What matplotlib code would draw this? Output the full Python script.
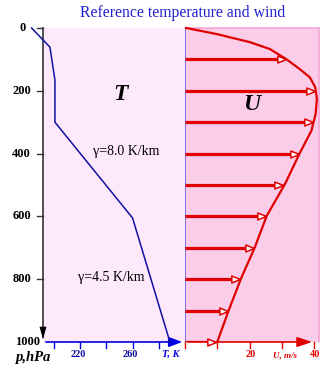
import matplotlib.pyplot as plt
import numpy as np

# temperature profile (K) vs pressure (hPa)
t_p = [0, 61, 166, 300, 605, 1000]
t_val = [183, 197, 200.8, 200.8, 260, 288.5]

# wind profile (m/s) vs pressure (hPa)
u_p = [0, 19, 45, 67, 99, 131, 157, 189, 226, 274, 327, 398, 497, 599, 700, 797, 898, 1000]
u_val = [0.4, 9.7, 20.1, 26.3, 31.4, 35.6, 38.7, 40.4, 40.9, 40.5, 39.2, 35.6, 31, 25.3, 21.6, 17.4, 13.6, 10]

arrow_p = [100, 200, 300, 400, 500, 600, 700, 800, 900, 1000]

p_ticks = [0, 200, 400, 600, 800, 1000]
t_ticks = [200, 220, 240, 260, 280]
t_labels = [220, 260]
u_ticks = [10, 20, 30, 40]
u_labels = [20, 40]

plt.rcParams['font.family'] = 'Liberation Serif'
blue = '#1010a0'
red = '#e00000'

fig = plt.figure(figsize=(3.25, 3.69), dpi=100)
bot = 1 - 342 / 369
top = 1 - 28 / 369
x0, x1, x2 = 43 / 325, 185 / 325, 319 / 325
axT = fig.add_axes([x0, bot, x1 - x0, top - bot])
axU = fig.add_axes([x1, bot, x2 - x1, top - bot])

for ax in (axT, axU):
    ax.set_ylim(1000, 0)
    ax.set_yticks([])
    ax.set_xticks([])
    for s in ax.spines.values():
        s.set_visible(False)

# left panel: temperature
tmin = 191.7
axT.set_facecolor('#fde9fb')
axT.set_xlim(tmin, 300)
axT.plot(t_val, t_p, color=blue, lw=1.1, clip_on=False, zorder=5)
axT.text(251, 212, 'T', fontsize=17, fontweight='bold', style='italic', ha='center', va='center')
axT.text(255.5, 392, 'γ=8.0 K/km', fontsize=10, ha='center', va='center')
axT.text(244, 796, 'γ=4.5 K/km', fontsize=10, ha='center', va='center')

# pressure axis with downward arrow
axT.plot([tmin, tmin], [0, 985], color='#333333', lw=1.2, clip_on=False)
axT.annotate('', xy=(tmin, 1000), xytext=(tmin, 950),
             arrowprops=dict(arrowstyle='-|>,head_length=0.9,head_width=0.25', color='black', lw=0),
             annotation_clip=False)
for p in p_ticks[:-1]:
    axT.plot([tmin - 4.6, tmin], [p, p], color='#333333', lw=1.0, clip_on=False)
lab_x = {0: 26, 1000: 40}
for p in p_ticks:
    xp = lab_x.get(p, 31)
    axT.text(-(43 - xp) / 142, 1 - p / 1000, str(p), transform=axT.transAxes,
             fontsize=9, fontweight='bold', ha='right', va='center')
axT.text(-0.197, -0.05, 'p,hPa', transform=axT.transAxes, fontsize=10.5,
         fontweight='bold', style='italic', ha='left', va='center')

# temperature axis
axT.annotate('', xy=(300, 1000), xytext=(tmin, 1000),
             arrowprops=dict(arrowstyle='-|>,head_length=0.8,head_width=0.3', color='#0000dd', lw=1.2),
             annotation_clip=False)
for t in t_ticks:
    axT.plot([t, t], [1000, 1018], color='#0000dd', lw=1.0, clip_on=False)
for t in t_labels:
    axT.text(t - 1.5, 1040, str(t), fontsize=7.5, fontweight='bold', color=blue, ha='center', va='center')
axT.text(289.5, 1040, 'T, K', fontsize=7.5, fontweight='bold', style='italic', color='#0000dd',
         ha='center', va='center')

# right panel: wind
axU.set_facecolor('#fccde8')
axU.set_xlim(0, 41.55)
for s in ('top', 'right'):
    axU.spines[s].set_visible(True)
    axU.spines[s].set_color('#f4a6d6')
    axU.spines[s].set_linewidth(1.2)
axU.plot([0, 0], [0, 1000], color='#7070e8', lw=1.3, zorder=4)
axU.plot(u_val, u_p, color=red, lw=1.6, clip_on=False, zorder=6)

# wind vectors: thick shafts plus hollow heads whose tip sits on the profile
u_at = np.interp(arrow_p, u_p, u_val)
axU.hlines(arrow_p, 0, u_at - 1.5, color=red, lw=2.3, zorder=4)
head = [(0, 0), (-1, 0.4), (-1, -0.4), (0, 0)]
axU.plot(u_at - 0.3, arrow_p, ls='none', marker=head, ms=12.5, mfc='white', mec=red, mew=1.1,
         clip_on=False, zorder=5)
axU.text(20.5, 245, 'U', fontsize=17, fontweight='bold', style='italic', ha='center', va='center')

# wind axis
axU.annotate('', xy=(40.3, 1000), xytext=(0, 1000),
             arrowprops=dict(arrowstyle='-|>,head_length=0.9,head_width=0.3', color=red, lw=1.2),
             annotation_clip=False)
for u in [0] + u_ticks:
    axU.plot([u, u], [1000, 1020], color=red, lw=1.0, clip_on=False)
for u in u_labels:
    axU.text(u + 0.4, 1040, str(u), fontsize=7.5, fontweight='bold', color=red, ha='center', va='center')
axU.text(31, 1042, 'U, m/s', fontsize=6.5, fontweight='bold', style='italic', color=red,
         ha='center', va='center')

fig.text(183 / 325, 1 - 13 / 369, 'Reference temperature and wind', fontsize=11.3,
         color='#2020d0', ha='center', va='center')

fig.savefig('out.png', dpi=100)
